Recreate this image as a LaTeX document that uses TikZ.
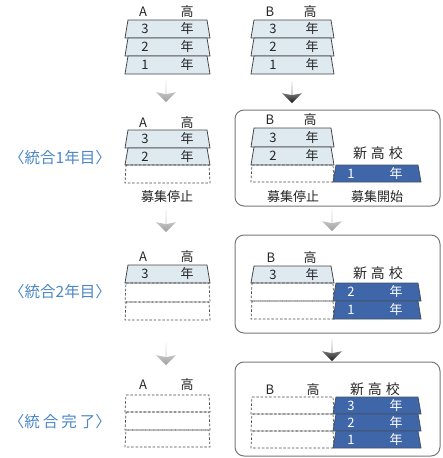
\documentclass[tikz,border=0pt]{standalone}
\usepackage{fontspec}
\newfontfamily\jp{Noto Sans CJK JP}
\usetikzlibrary{shapes.arrows}
\definecolor{lbl}{RGB}{74,134,198}
\definecolor{trapfill}{RGB}{222,233,240}
\definecolor{bluefill}{RGB}{62,102,168}
\definecolor{edge}{RGB}{70,70,70}
\definecolor{boxedge}{RGB}{120,120,120}
\newcommand\mytrap[5]{\draw[#1] ({#2+3},#4) -- ({#3-3},#4) -- (#3,#5) -- (#2,#5) -- cycle;}
\newcommand\mydash[5]{\draw[#1] ({#2+1},#4) -- ({#3-1},#4) -- (#3,#5) -- (#2,#5) -- cycle;}
\tikzset{
  solidtrap/.style={draw=edge, line width=0.8pt, fill=trapfill},
  bluetrap/.style={draw=edge!70!bluefill, line width=0.8pt, fill=bluefill},
  dashtrap/.style={draw=edge, line width=0.7pt, dash pattern=on 2.5pt off 1.8pt},
  roundbox/.style={draw=boxedge, line width=1pt, rounded corners=9pt},
  txt/.style={inner sep=0pt, font=\jp\fontsize{13}{13}\selectfont, text=black!85},
  wtxt/.style={txt, text=white},
  stagelbl/.style={inner sep=0pt, font=\jp\fontsize{15.5}{15.5}\selectfont, text=lbl},
  dnarrow/.style={single arrow, shape border rotate=270, minimum height=22pt,
     minimum width=20pt, inner sep=0pt, single arrow head extend=6.5pt,
     single arrow head indent=2pt, draw=none},
  lightarr/.style={dnarrow, top color=gray!15, bottom color=gray!75},
  darkarr/.style={dnarrow, top color=gray!20, bottom color=black!90},
}
\begin{document}
\begin{tikzpicture}[x=1pt,y=-1pt]
\useasboundingbox (0,0) rectangle (443,458);

% ---------- row 1 : A stack ----------
\node[txt] (a1A) at (143,12) {A};
\node[txt] (a1H) at (187,12) {高};
\mytrap{solidtrap}{125}{210}{20}{38}
\mytrap{solidtrap}{125}{210}{38}{56}
\mytrap{solidtrap}{125}{210}{56}{74}
\node[txt] (a1n3) at (145,29) {3};  \node[txt] (a1y3) at (187,29) {年};
\node[txt] (a1n2) at (145,47) {2};  \node[txt] (a1y2) at (187,47) {年};
\node[txt] (a1n1) at (145,65) {1};  \node[txt] (a1y1) at (187,65) {年};

% ---------- row 1 : B stack ----------
\node[txt] (b1B) at (270,12) {B};
\node[txt] (b1H) at (310,12) {高};
\mytrap{solidtrap}{251}{334}{20}{38}
\mytrap{solidtrap}{251}{334}{38}{56}
\mytrap{solidtrap}{251}{334}{56}{74}
\node[txt] (b1n3) at (273,29) {3};  \node[txt] (b1y3) at (312,29) {年};
\node[txt] (b1n2) at (273,47) {2};  \node[txt] (b1y2) at (312,47) {年};
\node[txt] (b1n1) at (273,65) {1};  \node[txt] (b1y1) at (312,65) {年};

% arrows row1 -> row2
\node[lightarr] (arA1) at (166,91) {};
\node[darkarr]  (arB1) at (292,92) {};

% ---------- row 2 ----------
\node[stagelbl] (st1) at (60,158) {〈統合1年目〉};
\node[txt] (a2A) at (143,123) {A};
\node[txt] (a2H) at (187,123) {高};
\mytrap{solidtrap}{125}{210}{130}{148}
\mytrap{solidtrap}{125}{210}{148}{165}
\mydash{dashtrap}{125}{210}{165}{183}
\node[txt] (a2n3) at (145,139) {3};  \node[txt] (a2y3) at (187,139) {年};
\node[txt] (a2n2) at (145,156.5) {2};  \node[txt] (a2y2) at (187,156.5) {年};
\node[txt] (a2stop) at (167,197) {募集停止};

\draw[roundbox] (235,110) rectangle (440,206);
\node[txt] (b2B) at (270,120) {B};
\node[txt] (b2H) at (310,120) {高};
\mytrap{solidtrap}{251}{334}{128}{147}
\mytrap{solidtrap}{251}{334}{147}{165}
\mydash{dashtrap}{251}{334}{165}{182}
\node[txt] (b2n3) at (273,137.5) {3};  \node[txt] (b2y3) at (312,137.5) {年};
\node[txt] (b2n2) at (273,156) {2};  \node[txt] (b2y2) at (312,156) {年};
\node[txt, font=\jp\fontsize{14}{14}\selectfont] (n2) at (378,153) {新\hspace{4pt}高\hspace{4pt}校};
\mytrap{bluetrap}{333}{421}{165}{182}
\node[wtxt] (n2n1) at (351,173.5) {1};  \node[wtxt] (n2y1) at (396,173.5) {年};
\node[txt] (b2stop) at (293,197) {募集停止};
\node[txt] (n2start) at (377,197) {募集開始};

% arrows row2 -> row3
\node[lightarr] (arA2) at (166,221) {};
\node[lightarr] (arB2) at (332,220) {};

% ---------- row 3 ----------
\node[stagelbl] (st2) at (60,292) {〈統合2年目〉};
\node[txt] (a3A) at (143,257) {A};
\node[txt] (a3H) at (187,257) {高};
\mytrap{solidtrap}{125}{210}{265}{283}
\mydash{dashtrap}{125}{210}{283}{302}
\mydash{dashtrap}{125}{210}{302}{320}
\node[txt] (a3n3) at (145,274) {3};  \node[txt] (a3y3) at (187,274) {年};

\draw[roundbox] (235,235) rectangle (440,333);
\node[txt] (b3B) at (271,258) {B};
\node[txt] (b3H) at (310,258) {高};
\mytrap{solidtrap}{251}{334}{266}{283}
\mydash{dashtrap}{251}{334}{283}{301}
\mydash{dashtrap}{251}{334}{301}{319}
\node[txt] (b3n3) at (273,274.5) {3};  \node[txt] (b3y3) at (312,274.5) {年};
\node[txt, font=\jp\fontsize{14}{14}\selectfont] (n3) at (378,273) {新\hspace{4pt}高\hspace{4pt}校};
\mytrap{bluetrap}{333}{421}{283}{301}
\mytrap{bluetrap}{333}{421}{301}{319}
\node[wtxt] (n3n2) at (351,292) {2};  \node[wtxt] (n3y2) at (396,292) {年};
\node[wtxt] (n3n1) at (351,310) {1};  \node[wtxt] (n3y1) at (396,310) {年};

% arrows row3 -> row4
\node[lightarr] (arA3) at (166,354) {};
\node[darkarr]  (arB3) at (332,350) {};

% ---------- row 4 ----------
\node[stagelbl] (st3) at (60,422) {〈統\hspace{3pt}合\hspace{3pt}完\hspace{3pt}了〉};
\node[txt] (a4A) at (143,385) {A};
\node[txt] (a4H) at (187,385) {高};
\mydash{dashtrap}{125}{210}{395}{412}
\mydash{dashtrap}{125}{210}{412}{430}
\mydash{dashtrap}{125}{210}{430}{447}

\draw[roundbox] (235,362) rectangle (440,456);
\node[txt] (b4B) at (270,390) {B};
\node[txt] (b4H) at (313,390) {高};
\node[txt, font=\jp\fontsize{14}{14}\selectfont] (n4) at (375,389) {新\hspace{4pt}高\hspace{4pt}校};
\mydash{dashtrap}{251}{334}{397}{414}
\mydash{dashtrap}{251}{334}{414}{431}
\mydash{dashtrap}{251}{334}{431}{448}
\mytrap{bluetrap}{333}{421}{397}{414}
\mytrap{bluetrap}{333}{421}{414}{431}
\mytrap{bluetrap}{333}{421}{431}{448}
\node[wtxt] (n4n3) at (351,405.5) {3};  \node[wtxt] (n4y3) at (396,405.5) {年};
\node[wtxt] (n4n2) at (351,422.5) {2};  \node[wtxt] (n4y2) at (396,422.5) {年};
\node[wtxt] (n4n1) at (351,439.5) {1};  \node[wtxt] (n4y1) at (396,439.5) {年};
\end{tikzpicture}
\end{document}
